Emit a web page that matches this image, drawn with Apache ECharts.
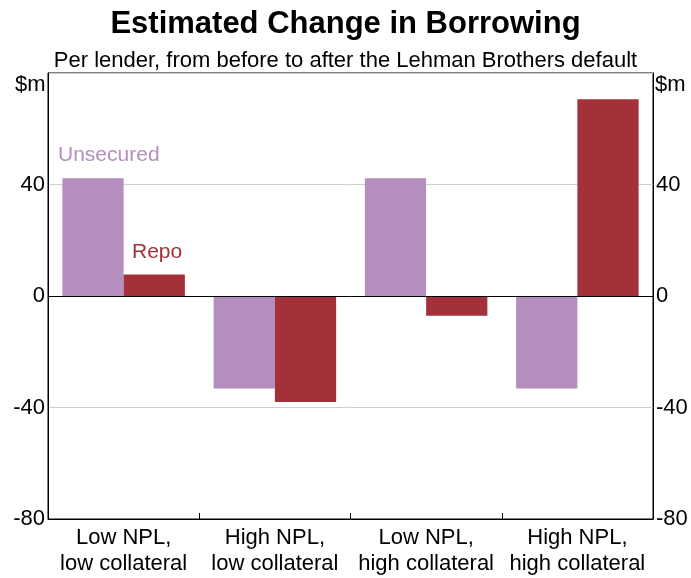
<!DOCTYPE html>
<html>
<head>
<meta charset="utf-8">
<script src="https://cdn.jsdelivr.net/npm/echarts@6/dist/echarts.min.js"></script>
<style>
html,body{margin:0;padding:0;background:#fff;}
#chart{width:691px;height:578px;}
</style>
</head>
<body>
<div id="chart"></div>
<script>
const categories = ['Low NPL,\nlow collateral', 'High NPL,\nlow collateral', 'Low NPL,\nhigh collateral', 'High NPL,\nhigh collateral'];
const unsecured = [42.2, -33.2, 42.2, -33.2];
const repo = [7.7, -38.0, -7.1, 70.6];
const yTicks = [-80, -40, 0, 40, 80];

const FONT = 'Liberation Sans, Arial, sans-serif';
const chart = echarts.init(document.getElementById('chart'));

const yAxisBase = {
  type: 'value', min: yTicks[0], max: yTicks[yTicks.length - 1], interval: 40,
  axisLine: { show: true, lineStyle: { color: '#000', width: 1 } },
  axisTick: { show: false },
  splitLine: { show: true, lineStyle: { color: '#cfcfcf', width: 1 } },
  axisLabel: {
    color: '#000', fontSize: 22, fontFamily: FONT, margin: 3,
    formatter: v => (v === 80 ? '' : String(v))
  }
};

chart.setOption({
  animation: false,
  backgroundColor: '#fff',
  title: [
    { text: 'Estimated Change in Borrowing', left: 'center', top: 4,
      textStyle: { fontSize: 31, fontWeight: 'bold', fontFamily: FONT, color: '#000' } },
    { text: 'Per lender, from before to after the Lehman Brothers default', left: 'center', top: 45,
      textStyle: { fontSize: 22, fontWeight: 'normal', fontFamily: FONT, color: '#000' } }
  ],
  grid: { left: 48, right: 38, top: 73, bottom: 59, show: true, borderColor: '#000', borderWidth: 1, backgroundColor: 'transparent' },
  xAxis: {
    type: 'category', data: categories,
    axisLine: { show: true, onZero: false, lineStyle: { color: '#000' } },
    axisTick: { show: true, inside: true, length: 6, lineStyle: { color: '#000' } },
    axisLabel: { color: '#000', fontSize: 22, fontFamily: FONT, lineHeight: 26, margin: 6, interval: 0 },
    splitLine: { show: false }
  },
  yAxis: [
    Object.assign({}, yAxisBase, { position: 'left' }),
    Object.assign({}, yAxisBase, { position: 'right', splitLine: { show: false } })
  ],
  series: [
    { name: 'Unsecured', type: 'bar', data: unsecured, barGap: '0%', barCategoryGap: '19%',
      itemStyle: { color: '#b48fbd' },
      markLine: { silent: true, symbol: ['none', 'none'], label: { show: false },
        lineStyle: { color: '#000', width: 1, type: 'solid' }, data: [{ yAxis: 0 }] } },
    { name: 'Repo', type: 'bar', data: repo, itemStyle: { color: '#a3313a' } }
  ],
  graphic: [
    { type: 'text', left: 15, top: 74, style: { text: '$m', fontSize: 22, fontFamily: FONT, fill: '#000' } },
    { type: 'text', left: 655, top: 74, style: { text: '$m', fontSize: 22, fontFamily: FONT, fill: '#000' } },
    { type: 'text', left: 58, top: 145, style: { text: 'Unsecured', fontSize: 21, fontFamily: FONT, fill: '#b48fbd' } },
    { type: 'text', left: 132, top: 242, style: { text: 'Repo', fontSize: 21, fontFamily: FONT, fill: '#a3313a' } }
  ]
});
</script>
</body>
</html>
